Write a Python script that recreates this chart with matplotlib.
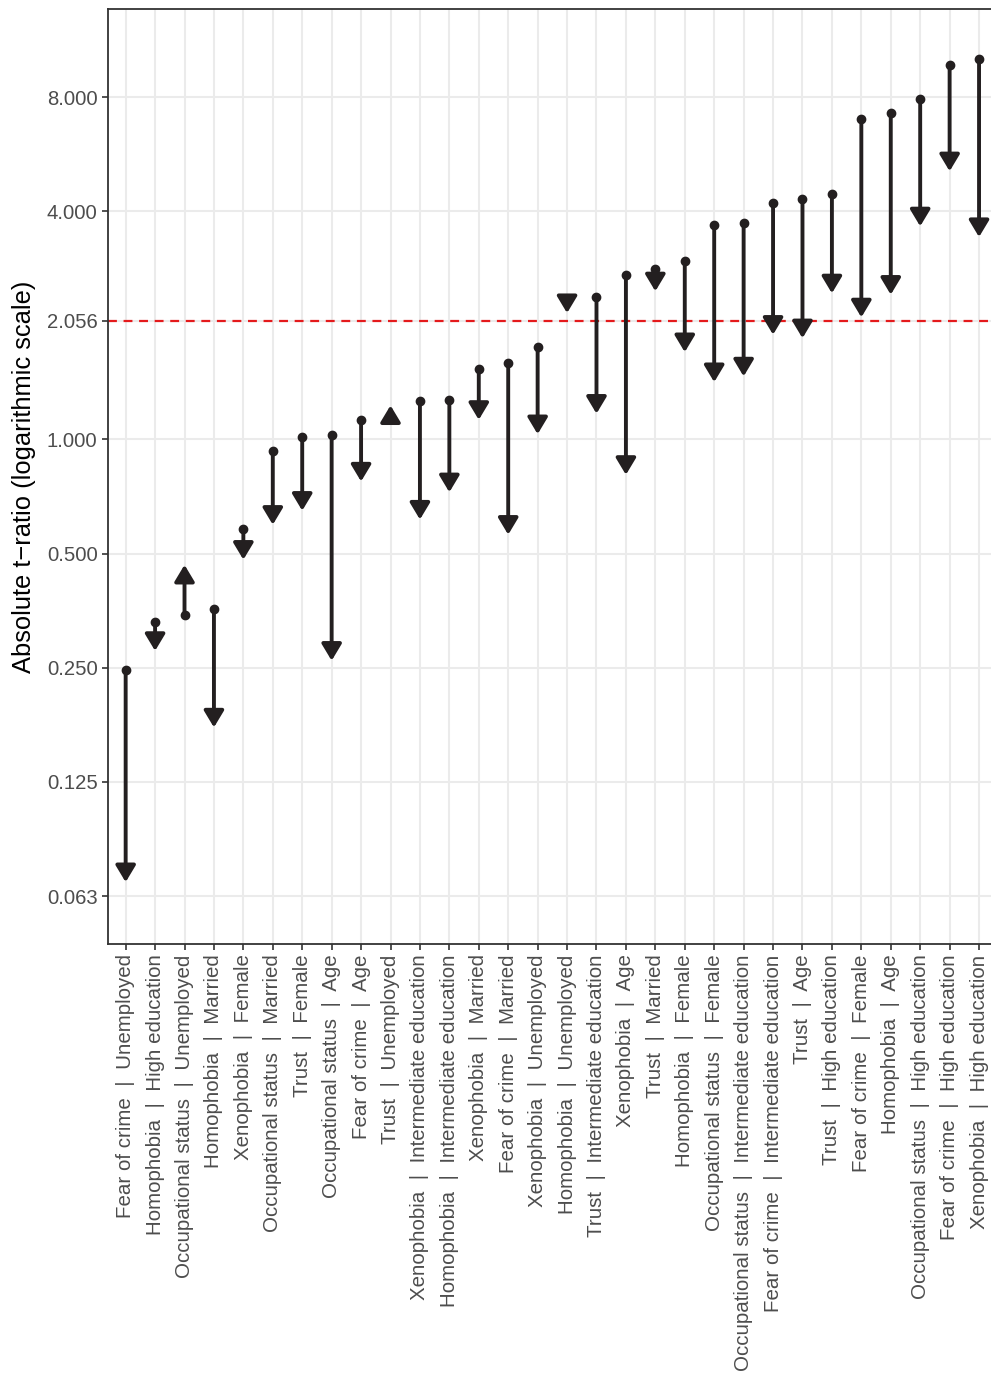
import matplotlib
matplotlib.use("Agg")
import matplotlib.pyplot as plt
from matplotlib.patches import FancyArrowPatch
from matplotlib.ticker import FixedLocator, NullLocator

plt.rcParams["font.family"] = ["Liberation Sans", "DejaVu Sans"]

# variable | covariate labels, ordered as on the x axis
labels = [
    "Fear of crime  |  Unemployed",
    "Homophobia  |  High education",
    "Occupational status  |  Unemployed",
    "Homophobia  |  Married",
    "Xenophobia  |  Female",
    "Occupational status  |  Married",
    "Trust  |  Female",
    "Occupational status  |  Age",
    "Fear of crime  |  Age",
    "Trust  |  Unemployed",
    "Xenophobia  |  Intermediate education",
    "Homophobia  |  Intermediate education",
    "Xenophobia  |  Married",
    "Fear of crime  |  Married",
    "Xenophobia  |  Unemployed",
    "Homophobia  |  Unemployed",
    "Trust  |  Intermediate education",
    "Xenophobia  |  Age",
    "Trust  |  Married",
    "Homophobia  |  Female",
    "Occupational status  |  Female",
    "Occupational status  |  Intermediate education",
    "Fear of crime  |  Intermediate education",
    "Trust  |  Age",
    "Trust  |  High education",
    "Fear of crime  |  Female",
    "Homophobia  |  Age",
    "Occupational status  |  High education",
    "Fear of crime  |  High education",
    "Xenophobia  |  High education",
]

# absolute t-ratio before (dot) and after (arrow tip)
t_start = [0.247, 0.331, 0.344, 0.358, 0.579, 0.935, 1.018, 1.027, 1.125, 1.14,
           1.26, 1.27, 1.53, 1.588, 1.757, 2.34, 2.376, 2.72, 2.81, 2.96,
           3.67, 3.73, 4.21, 4.32, 4.45, 7.0, 7.25, 7.89, 9.7, 10.06]
t_end = [0.068, 0.277, 0.467, 0.174, 0.482, 0.596, 0.649, 0.261, 0.775, 1.23,
         0.615, 0.726, 1.127, 0.561, 1.033, 2.155, 1.17, 0.807, 2.46, 1.70,
         1.417, 1.467, 1.89, 1.85, 2.43, 2.10, 2.41, 3.65, 5.10, 3.42]

critical = 2.056
y_ticks = [0.0625, 0.125, 0.25, 0.5, 1.0, 2.056, 4.0, 8.0]
y_tick_labels = ["0.063", "0.125", "0.250", "0.500", "1.000", "2.056", "4.000", "8.000"]

dark = "#231F20"
grey_txt = "#4D4D4D"

fig = plt.figure(figsize=(9.91, 13.85), dpi=100)
ax = fig.add_axes([108 / 991, 1 - 944 / 1385, (996.7 - 108) / 991, (944 - 9) / 1385])

ax.set_yscale("log", base=2)
ax.set_ylim(0.0467, 13.66)
ax.set_xlim(0.4, len(labels) + 0.6)

xs = list(range(1, len(labels) + 1))

ax.set_xticks(xs)
ax.set_xticklabels(labels, rotation=90, fontsize=14.8, color=grey_txt)
ax.yaxis.set_major_locator(FixedLocator(y_ticks))
ax.yaxis.set_minor_locator(NullLocator())
ax.set_yticklabels(y_tick_labels, fontsize=14.6, color=grey_txt)

ax.grid(True, color="#EBEBEB", linewidth=1.5)
ax.set_axisbelow(True)
ax.tick_params(axis="both", length=4, width=1.2, color="#333333", pad=3.5)
for side, sp in ax.spines.items():
    sp.set_color("#333333")
    sp.set_linewidth(1.3)

ax.axhline(critical, color="#E41A1C", linestyle=(0, (4, 3)), linewidth=1.6, zorder=2)

for x, a, b in zip(xs, t_start, t_end):
    arr = FancyArrowPatch((x, a), (x, b), arrowstyle="-|>,head_length=10,head_width=6",
                          mutation_scale=1, shrinkA=0, shrinkB=0,
                          color=dark, linewidth=2.8, joinstyle="round", zorder=3)
    ax.add_patch(arr)
ax.plot(xs, t_start, "o", color=dark, markersize=6, zorder=4)

ax.set_ylabel("Absolute t\u2212ratio (logarithmic scale)", fontsize=18.4, color="black", labelpad=8)

fig.savefig("out.png", dpi=100)
